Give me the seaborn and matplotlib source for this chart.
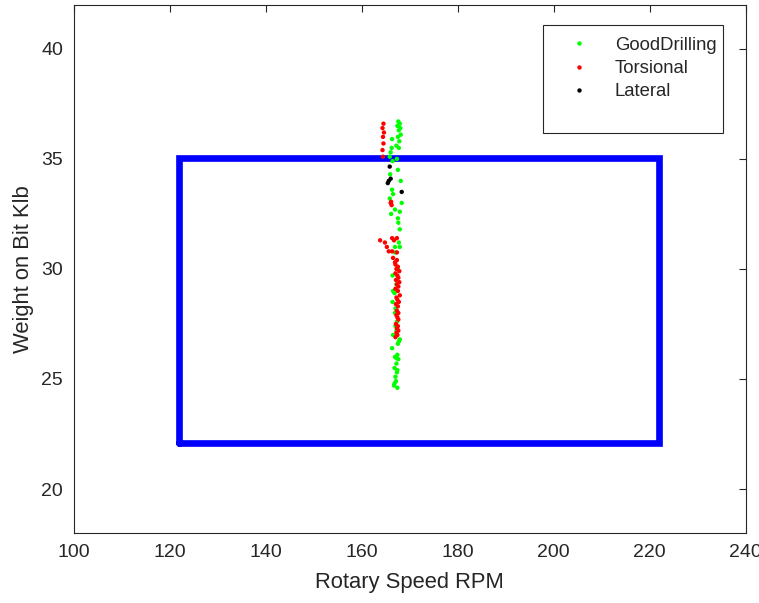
import pandas as pd
import seaborn as sns
import matplotlib.pyplot as plt
from matplotlib.patches import Rectangle

# Readings, grouped by drilling state (RPM, WOB in klb)
good_rpm = [167.6, 167.9, 167.4, 168.0, 167.7, 168.1, 167.5, 166.3, 167.8, 167.2, 166.2, 167.7,
            166.0, 165.8, 167.3, 166.4, 167.5, 165.9, 168.1, 166.3, 166.5, 165.8, 168.3, 166.9,
            167.9, 166.1, 167.5, 167.6, 167.9, 167.7, 166.9, 167.9, 166.9, 167.5, 166.4, 167.2,
            166.5, 166.8, 166.4, 167.0, 166.9, 167.3, 166.5, 167.2, 167.9, 167.5, 166.3, 167.4,
            167.6, 167.2, 166.8, 167.3, 167.0, 167.1, 166.7, 167.4, 167.2, 166.9, 167.4, 166.8,
            167.7, 167.0]
good_wob = [36.7, 36.6, 36.5, 36.4, 36.3, 36.1, 36.0, 35.9, 35.8, 35.6, 35.5, 35.5,
            35.3, 35.1, 35.0, 34.9, 34.5, 34.3, 34.0, 33.6, 33.4, 33.2, 33.0, 32.7,
            32.6, 32.5, 32.3, 32.1, 31.8, 31.2, 31.0, 31.0, 30.75, 30.0, 29.7, 29.3,
            29.0, 28.9, 28.5, 28.2, 28.0, 27.6, 27.0, 27.2, 26.8, 26.6, 26.4, 26.1,
            25.9, 25.7, 25.5, 25.3, 25.1, 24.9, 24.7, 24.6, 25.95, 26.0, 25.4, 24.8,
            26.7, 27.4]

tors_rpm = [164.5, 164.3, 164.6, 164.4, 164.5, 164.3, 164.4, 166.0, 166.2, 166.1,
            163.8, 164.8, 165.2, 166.3, 166.7, 167.3, 165.6, 166.3, 167.3, 166.5, 167.3, 166.9,
            167.0, 167.5, 167.2, 167.8, 167.0, 167.4, 167.6, 167.1, 167.8, 167.3, 167.6, 167.0,
            167.5, 167.9, 167.2, 167.4, 167.7, 167.1, 167.5, 167.3, 167.6, 167.2, 167.4, 167.6,
            167.1, 167.5, 167.3, 167.6, 167.2, 167.4, 167.0]
tors_wob = [36.6, 36.4, 36.2, 36.0, 35.7, 35.4, 35.1, 33.0, 32.9, 33.05,
            31.3, 31.2, 31.0, 31.4, 31.3, 31.4, 30.8, 30.8, 30.75, 30.5, 30.4, 30.3,
            30.2, 30.1, 30.0, 29.9, 29.8, 29.7, 29.6, 29.5, 29.4, 29.3, 29.2, 29.1,
            29.0, 28.8, 28.7, 28.6, 28.5, 28.4, 28.3, 28.1, 28.0, 27.9, 27.8, 27.7,
            27.5, 27.4, 27.3, 27.2, 27.1, 27.0, 26.9]

lat_rpm = [165.8, 166.0, 165.4, 165.6, 168.3]
lat_wob = [34.65, 34.1, 33.9, 34.0, 33.5]

# operating window
win_rpm = [121.8, 222.0]
win_wob = [22.1, 35.05]

states = ['GoodDrilling', 'Torsional', 'Lateral']
colors = ['#00ff00', '#ff0000', '#000000']

df = pd.concat([
    pd.DataFrame({'rpm': good_rpm, 'wob': good_wob, 'state': states[0]}),
    pd.DataFrame({'rpm': tors_rpm, 'wob': tors_wob, 'state': states[1]}),
    pd.DataFrame({'rpm': lat_rpm, 'wob': lat_wob, 'state': states[2]}),
], ignore_index=True)

sns.set_style('white')
plt.rcParams['font.family'] = ['Liberation Sans', 'DejaVu Sans']
grey = '#262626'

fig = plt.figure(figsize=(7.59, 6.03), dpi=100)
ax = fig.add_axes([0.0975, 0.116, 0.885, 0.876])

# window box
bx = [win_rpm[0], win_rpm[1], win_rpm[1], win_rpm[0], win_rpm[0]]
by = [win_wob[0], win_wob[0], win_wob[1], win_wob[1], win_wob[0]]
ax.plot(bx, by, color='#0000ff', lw=4.8, solid_joinstyle='miter', zorder=1)

sns.scatterplot(data=df, x='rpm', y='wob', hue='state', hue_order=states,
                palette=colors, s=10, linewidth=0, ax=ax, zorder=2)

ax.set_xlim(100, 240)
ax.set_ylim(18, 42)
ax.set_xticks(range(100, 241, 20))
ax.set_yticks(range(20, 41, 5))
ax.set_xlabel('Rotary Speed RPM', fontsize=15.8, color=grey, labelpad=8)
ax.set_ylabel('Weight on Bit Klb', fontsize=15.8, color=grey, labelpad=5)
ax.tick_params(direction='in', length=5, width=0.8, colors=grey, labelsize=14,
               top=True, right=True, pad=8)
for sp in ax.spines.values():
    sp.set_color(grey)
    sp.set_linewidth(0.8)

# legend, with a MATLAB-like frame drawn separately
ax.add_patch(Rectangle((0.698, 0.758), 0.268, 0.204, transform=ax.transAxes,
                       fill=False, edgecolor=grey, lw=0.8, zorder=3))
ax.legend(loc='upper left', bbox_to_anchor=(0.738, 0.94), frameon=False,
          fontsize=13.3, handlelength=1, handletextpad=1.45, borderpad=0,
          borderaxespad=0, labelspacing=0.35, markerscale=1.0)

plt.savefig('out.png', dpi=100)
